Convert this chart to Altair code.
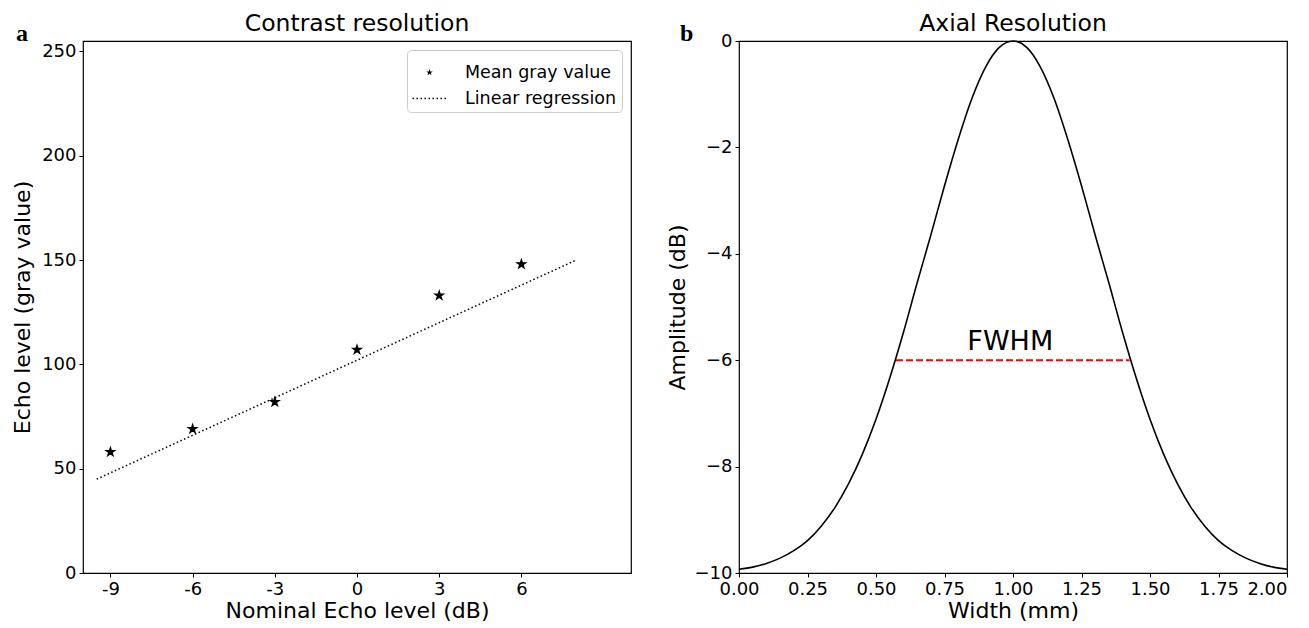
import altair as alt
import pandas as pd

# ---- Panel a: contrast resolution ----
nominal_db = [-9, -6, -3, 0, 3, 6]
mean_gray = [58, 69, 82, 107, 133, 148]
reg_x = [-9.5, 8.0]
reg_y = [45, 150]
gray_ticks = [0, 50, 100, 150, 200, 250]

# ---- Panel b: axial resolution ----
width_mm = [0.00, 0.05, 0.10, 0.15, 0.20, 0.25, 0.30, 0.35, 0.40, 0.45,
            0.50, 0.55, 0.60, 0.65, 0.70, 0.75, 0.80, 0.85, 0.90, 0.95,
            1.00, 1.05, 1.10, 1.15, 1.20, 1.25, 1.30, 1.35, 1.40, 1.45,
            1.50, 1.55, 1.60, 1.65, 1.70, 1.75, 1.80, 1.85, 1.90, 1.95, 2.00]
amplitude_db = [-9.93, -9.89, -9.82, -9.72, -9.58, -9.39, -9.12, -8.77, -8.32, -7.77,
                -7.11, -6.34, -5.48, -4.55, -3.65, -2.72, -1.85, -1.08, -0.49, -0.12,
                0.00, -0.12, -0.49, -1.08, -1.85, -2.72, -3.65, -4.55, -5.48, -6.34,
                -7.11, -7.77, -8.32, -8.77, -9.12, -9.39, -9.58, -9.72, -9.82, -9.89, -9.93]
fwhm_x = [0.573, 1.426]
fwhm_y = [-6, -6]
fwhm_label = ["FWHM"]
fwhm_label_x = [0.99]
fwhm_label_y = [-5.81]
width_ticks = [0.0, 0.25, 0.5, 0.75, 1.0, 1.25, 1.5, 1.75, 2.0]
amp_ticks = [-10, -8, -6, -4, -2, 0]

legend_names = ["Mean gray value", "Linear regression"]

STAR = ("M0,-0.2L0.0449,-0.0618L0.1902,-0.0618L0.0727,0.0236L0.1176,0.1618"
        "L0,0.0764L-0.1176,0.1618L-0.0727,0.0236L-0.1902,-0.0618L-0.0449,-0.0618Z")
# dotted legend handle drawn as tiny filled squares
DOTS = ("M-1,-0.045h0.09v0.09h-0.09Z"
        "M-0.765,-0.045h0.09v0.09h-0.09Z"
        "M-0.53,-0.045h0.09v0.09h-0.09Z"
        "M-0.295,-0.045h0.09v0.09h-0.09Z"
        "M-0.06,-0.045h0.09v0.09h-0.09Z"
        "M0.175,-0.045h0.09v0.09h-0.09Z"
        "M0.41,-0.045h0.09v0.09h-0.09Z"
        "M0.645,-0.045h0.09v0.09h-0.09Z"
        "M0.88,-0.045h0.09v0.09h-0.09Z")

FONT = "DejaVu Sans"

pts = pd.DataFrame({"x": nominal_db, "y": mean_gray, "series": legend_names[0]})
reg = pd.DataFrame({"x": reg_x, "y": reg_y})

xs_a = alt.Scale(domain=[-10, 10], nice=False, zero=False)
ys_a = alt.Scale(domain=[0, 255], nice=False)

x_axis_a = alt.Axis(values=nominal_db, title="Nominal Echo level (dB)", titlePadding=2,
                    labelExpr="datum.value < 0 ? '-' + format(-datum.value, 'd') : format(datum.value, 'd')")
y_axis_a = alt.Axis(values=gray_ticks, title="Echo level (gray value)", titlePadding=7,
                    labelFlush=False)

reg_line = alt.Chart(reg).mark_line(color="black", strokeWidth=1.5, strokeDash=[1.5, 2.5]).encode(
    x=alt.X("x:Q", scale=xs_a, axis=x_axis_a),
    y=alt.Y("y:Q", scale=ys_a, axis=y_axis_a),
)

points = alt.Chart(pts).mark_point(filled=True, fill="black", stroke="black", strokeWidth=1.2,
                                   opacity=1, size=2116).encode(
    x=alt.X("x:Q", scale=xs_a),
    y=alt.Y("y:Q", scale=ys_a),
    shape=alt.Shape("series:N",
                    scale=alt.Scale(domain=legend_names, range=[STAR, DOTS]),
                    legend=alt.Legend(title=None, orient="top-right", offset=9, padding=5,
                                      fillColor="white", strokeColor="#cccccc", cornerRadius=4,
                                      labelFont=FONT, labelFontSize=17.5, labelColor="black",
                                      labelOffset=18, symbolSize=1156, rowPadding=0,
                                      symbolStrokeColor="black", symbolFillColor="black",
                                      symbolStrokeWidth=1.0, symbolOpacity=1)),
)

lab_a = alt.Chart(pd.DataFrame({"t": ["a"]})).mark_text(
    font="Liberation Serif", fontWeight="bold", fontSize=24, align="left",
    baseline="alphabetic", color="black").encode(
    text="t:N", x=alt.value(-67), y=alt.value(0))

left = alt.layer(reg_line, points, lab_a).properties(
    width=548, height=532,
    title=alt.TitleParams("Contrast resolution", font=FONT, fontSize=23.5, fontWeight="normal",
                          color="black", offset=-13, frame="group"))

# ---- right panel ----
curve_df = pd.DataFrame({"w": width_mm, "a": amplitude_db})
fwhm_df = pd.DataFrame({"w": fwhm_x, "a": fwhm_y})
fwhm_txt = pd.DataFrame({"w": fwhm_label_x, "a": fwhm_label_y, "t": fwhm_label})

xs_b = alt.Scale(domain=[0, 2], nice=False)
ys_b = alt.Scale(domain=[-10, 0], nice=False)

curve = alt.Chart(curve_df).mark_line(color="black", strokeWidth=1.6, interpolate="monotone").encode(
    x=alt.X("w:Q", scale=xs_b, axis=alt.Axis(
        values=width_ticks, format=".2f", title="Width (mm)", titlePadding=2, labelFlush=False,
        labelAlign={"condition": {"test": "datum.value >= 2", "value": "right"}, "value": "center"})),
    y=alt.Y("a:Q", scale=ys_b, axis=alt.Axis(values=amp_ticks, title="Amplitude (dB)", titlePadding=5,
                                              labelFlush=False,
                                              labelExpr="datum.value < 0 ? '\u2212' + format(-datum.value, 'd') : '0'")),
)
fwhm_line = alt.Chart(fwhm_df).mark_line(color="#ff0000", strokeWidth=2, strokeDash=[7, 3]).encode(
    x=alt.X("w:Q", scale=xs_b), y=alt.Y("a:Q", scale=ys_b))
fwhm_text = alt.Chart(fwhm_txt).mark_text(font=FONT, fontSize=27, color="black", align="center",
                                          baseline="alphabetic").encode(
    x=alt.X("w:Q", scale=xs_b), y=alt.Y("a:Q", scale=ys_b), text="t:N")

lab_b = alt.Chart(pd.DataFrame({"t": ["b"]})).mark_text(
    font="Liberation Serif", fontWeight="bold", fontSize=24, align="left",
    baseline="alphabetic", color="black").encode(
    text="t:N", x=alt.value(-59), y=alt.value(0))

right = alt.layer(curve, fwhm_line, fwhm_text, lab_b).properties(
    width=548, height=532,
    title=alt.TitleParams("Axial Resolution", font=FONT, fontSize=23.5, fontWeight="normal",
                          color="black", offset=-13, frame="group"))

chart = alt.hconcat(left, right, spacing=33).resolve_legend(shape="independent").properties(
    padding={"left": 3, "top": 2, "right": 0, "bottom": 0},
    background="white",
).configure_view(stroke="black", strokeWidth=1.2).configure_axis(
    labelFont=FONT, labelFontSize=18, labelColor="black",
    titleFont=FONT, titleFontSize=22, titleFontWeight="normal", titleColor="black",
    tickColor="black", tickSize=4, tickWidth=1, labelPadding=3,
    grid=False, domain=False,
)

chart.save("out.html", embed_options={"renderer": "svg", "actions": False})
